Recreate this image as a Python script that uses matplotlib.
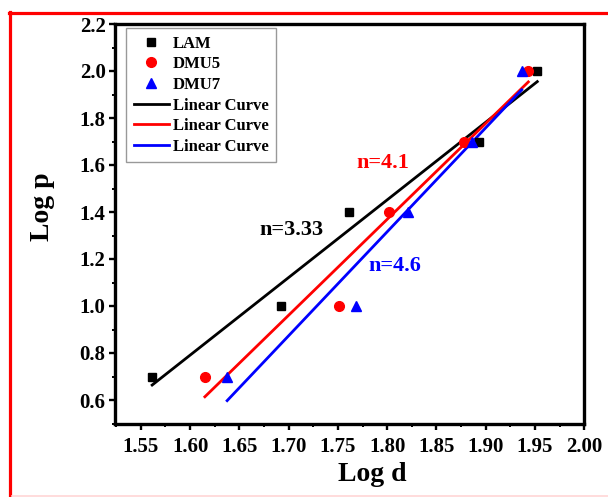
import numpy as np
import matplotlib
matplotlib.use("Agg")
import matplotlib.pyplot as plt
from matplotlib.lines import Line2D
from matplotlib.ticker import MultipleLocator, FormatStrFormatter

# log of grain size (d) and log of stress (p) for each sample
log_p = [0.7, 1.0, 1.4, 1.7, 2.0]
lam_log_d = [1.5615, 1.6925, 1.7615, 1.8935, 1.9523]
dmu5_log_d = [1.615, 1.751, 1.8018, 1.878, 1.9432]
dmu7_log_d = [1.6376, 1.7686, 1.8214, 1.8857, 1.9365]

series_names = ["LAM", "DMU5", "DMU7"]
slope_labels = ["n=3.33", "n=4.1", "n=4.6"]

plt.rcParams["font.family"] = ["Liberation Serif", "DejaVu Serif"]
plt.rcParams["font.weight"] = "bold"

fig = plt.figure(figsize=(6.08, 4.97), dpi=100)
W, H = 608, 497
ax = fig.add_axes([114.7 / W, 1 - 423.5 / H, 469.6 / W, 399.5 / H])

styles = [
    dict(color="black", marker="s", ms=6),
    dict(color="#ff0000", marker="o", ms=7),
    dict(color="#0000ff", marker="^", ms=7.5),
]

handles_pts, handles_lin = [], []
for xs, st in zip([lam_log_d, dmu5_log_d, dmu7_log_d], styles):
    xs = np.asarray(xs)
    ys = np.asarray(log_p)
    h, = ax.plot(xs, ys, linestyle="none", marker=st["marker"], ms=st["ms"],
                 color=st["color"], mec=st["color"], zorder=3)
    handles_pts.append(h)
    k, b = np.polyfit(xs, ys, 1)
    xf = np.array([xs.min(), xs.max()])
    l, = ax.plot(xf, k * xf + b, color=st["color"], lw=2.0, zorder=2)
    handles_lin.append(l)

# slope annotations
ax.text(1.7028, 1.324, slope_labels[0], color="black", fontsize=16,
        fontweight="bold", ha="center", va="center")
ax.text(1.7957, 1.610, slope_labels[1], color="#ff0000", fontsize=16,
        fontweight="bold", ha="center", va="center")
ax.text(1.808, 1.172, slope_labels[2], color="#0000ff", fontsize=16,
        fontweight="bold", ha="center", va="center")

ax.set_xlim(1.5235, 2.0)
ax.set_ylim(0.5, 2.2)
ax.xaxis.set_major_locator(MultipleLocator(0.05))
ax.xaxis.set_minor_locator(MultipleLocator(0.025))
ax.yaxis.set_major_locator(MultipleLocator(0.2))
ax.yaxis.set_minor_locator(MultipleLocator(0.1))
ax.xaxis.set_major_formatter(FormatStrFormatter("%.2f"))
ax.yaxis.set_major_formatter(FormatStrFormatter("%.1f"))

for s in ax.spines.values():
    s.set_linewidth(2.4)
ax.tick_params(which="major", direction="out", length=4.5, width=1.7,
               labelsize=15, top=False, right=False)
ax.tick_params(which="minor", direction="out", length=2.5, width=1.4,
               top=False, right=False)
ax.tick_params(axis="x", which="major", pad=5)
ax.tick_params(axis="y", which="major", pad=2)
for lab in ax.get_xticklabels() + ax.get_yticklabels():
    lab.set_fontweight("bold")

ax.set_xlabel("Log d", fontsize=20, fontweight="bold")
ax.set_ylabel("Log p", fontsize=20, fontweight="bold")
ax.xaxis.set_label_coords(0.548, -0.097)
ax.yaxis.set_label_coords(-0.127, 0.542)

leg = ax.legend(handles_pts + handles_lin,
                series_names + ["Linear Curve"] * 3,
                loc="upper left", bbox_to_anchor=(126 / W, 1 - 28 / H),
                bbox_transform=fig.transFigure, borderaxespad=0,
                prop=dict(family="Liberation Serif", weight="bold", size=12),
                handlelength=2.1, handletextpad=0.25, labelspacing=0.28,
                borderpad=0.45, frameon=True, fancybox=False, numpoints=1)
leg.get_frame().set_edgecolor("#808080")
leg.get_frame().set_linewidth(1.0)

# red frame around the panel
fig.add_artist(Line2D([10 / W, 10 / W], [0, 1 - 12 / H], color="#ff0000",
                      lw=2.3, transform=fig.transFigure))
fig.add_artist(Line2D([9 / W, 1], [1 - 13 / H, 1 - 13 / H], color="#ff0000",
                      lw=2.3, transform=fig.transFigure))
fig.add_artist(Line2D([12 / W, 1], [1.5 / H, 1.5 / H], color="#ffd6d6",
                      lw=1.2, transform=fig.transFigure))

fig.savefig("out.png", dpi=100)
